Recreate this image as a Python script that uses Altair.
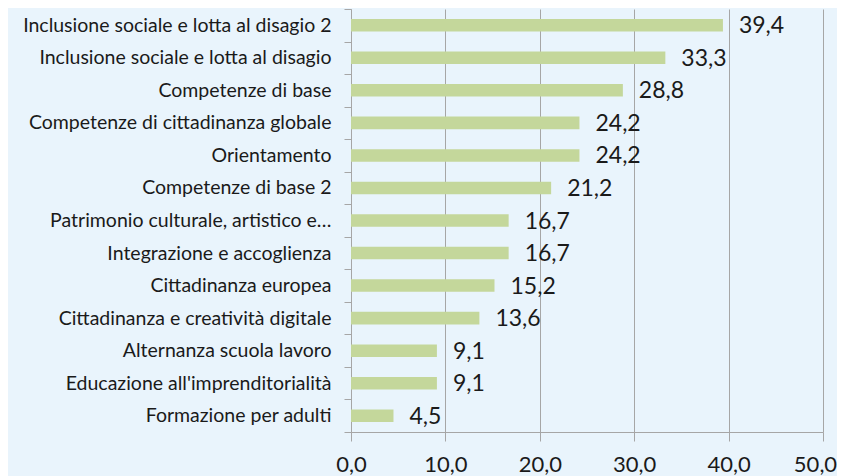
import altair as alt
import pandas as pd

categories = [
    "Inclusione sociale e lotta al disagio 2",
    "Inclusione sociale e lotta al disagio",
    "Competenze di base\u00a0",
    "Competenze di cittadinanza globale",
    "Orientamento\u00a0",
    "Competenze di base 2",
    "Patrimonio culturale, artistico e…",
    "Integrazione e accoglienza\u00a0",
    "Cittadinanza europea",
    "Cittadinanza e creatività digitale",
    "Alternanza scuola lavoro",
    "Educazione all'imprenditorialità",
    "Formazione per adulti\u00a0",
]
values = [39.4, 33.3, 28.8, 24.2, 24.2, 21.2, 16.7, 16.7, 15.2, 13.6, 9.1, 9.1, 4.5]
x_ticks = [0, 10, 20, 30, 40, 50]

df = pd.DataFrame({"cat": categories, "val": values})

FONT = "Lato"
GRID = "#a6a6a6"
TXT = "#1a1a1a"

y_enc = alt.Y(
    "cat:N",
    sort=categories,
    scale=alt.Scale(paddingInner=0, paddingOuter=0),
    axis=alt.Axis(
        title=None,
        tickBand="extent",
        tickSize=7,
        tickColor=GRID,
        domainColor=GRID,
        labelPadding=13,
        labelFont=FONT,
        labelFontSize=19.5,
        labelColor=TXT,
        labelLimit=400,
        grid=False,
    ),
)

x_enc = alt.X(
    "val:Q",
    scale=alt.Scale(domain=[0, 50], nice=False, zero=True),
    axis=alt.Axis(
        title=None,
        values=x_ticks,
        format=".1f",
        grid=True,
        gridColor=GRID,
        gridWidth=1,
        tickSize=9,
        tickColor=GRID,
        domainColor=GRID,
        labelPadding=13,
        labelFont=FONT,
        labelFontSize=22,
        labelColor=TXT,
        labelFlush=False,
        labelOffset={"expr": "datum.value == 50 ? -8 : 0"},
    ),
)

bars = alt.Chart(df).mark_bar(
    color="#c4d79b",
    height=alt.RelativeBandSize(band=0.385),
).encode(x=x_enc, y=y_enc)

labels = alt.Chart(df).mark_text(
    align="left",
    baseline="middle",
    dx=16,
    dy=1,
    font=FONT,
    fontSize=23,
    color=TXT,
).encode(
    x=alt.X("val:Q"),
    y=alt.Y("cat:N", sort=categories),
    text=alt.Text("val:Q", format=".1f"),
)

chart = (
    alt.layer(bars, labels)
    .properties(
        width=472,
        height=423,
        autosize=alt.AutoSizeParams(type="none"),
        padding={"left": 343, "top": 1, "right": 14, "bottom": 50},
        background="#e9f4fc",
    )
    .configure(
        locale={
            "number": {
                "decimal": ",",
                "thousands": ".",
                "grouping": [3],
                "currency": ["", "\u00a0€"],
            }
        }
    )
    .configure_view(stroke=None)
)

chart.save("out.html", embed_options={"renderer": "svg", "actions": False})
